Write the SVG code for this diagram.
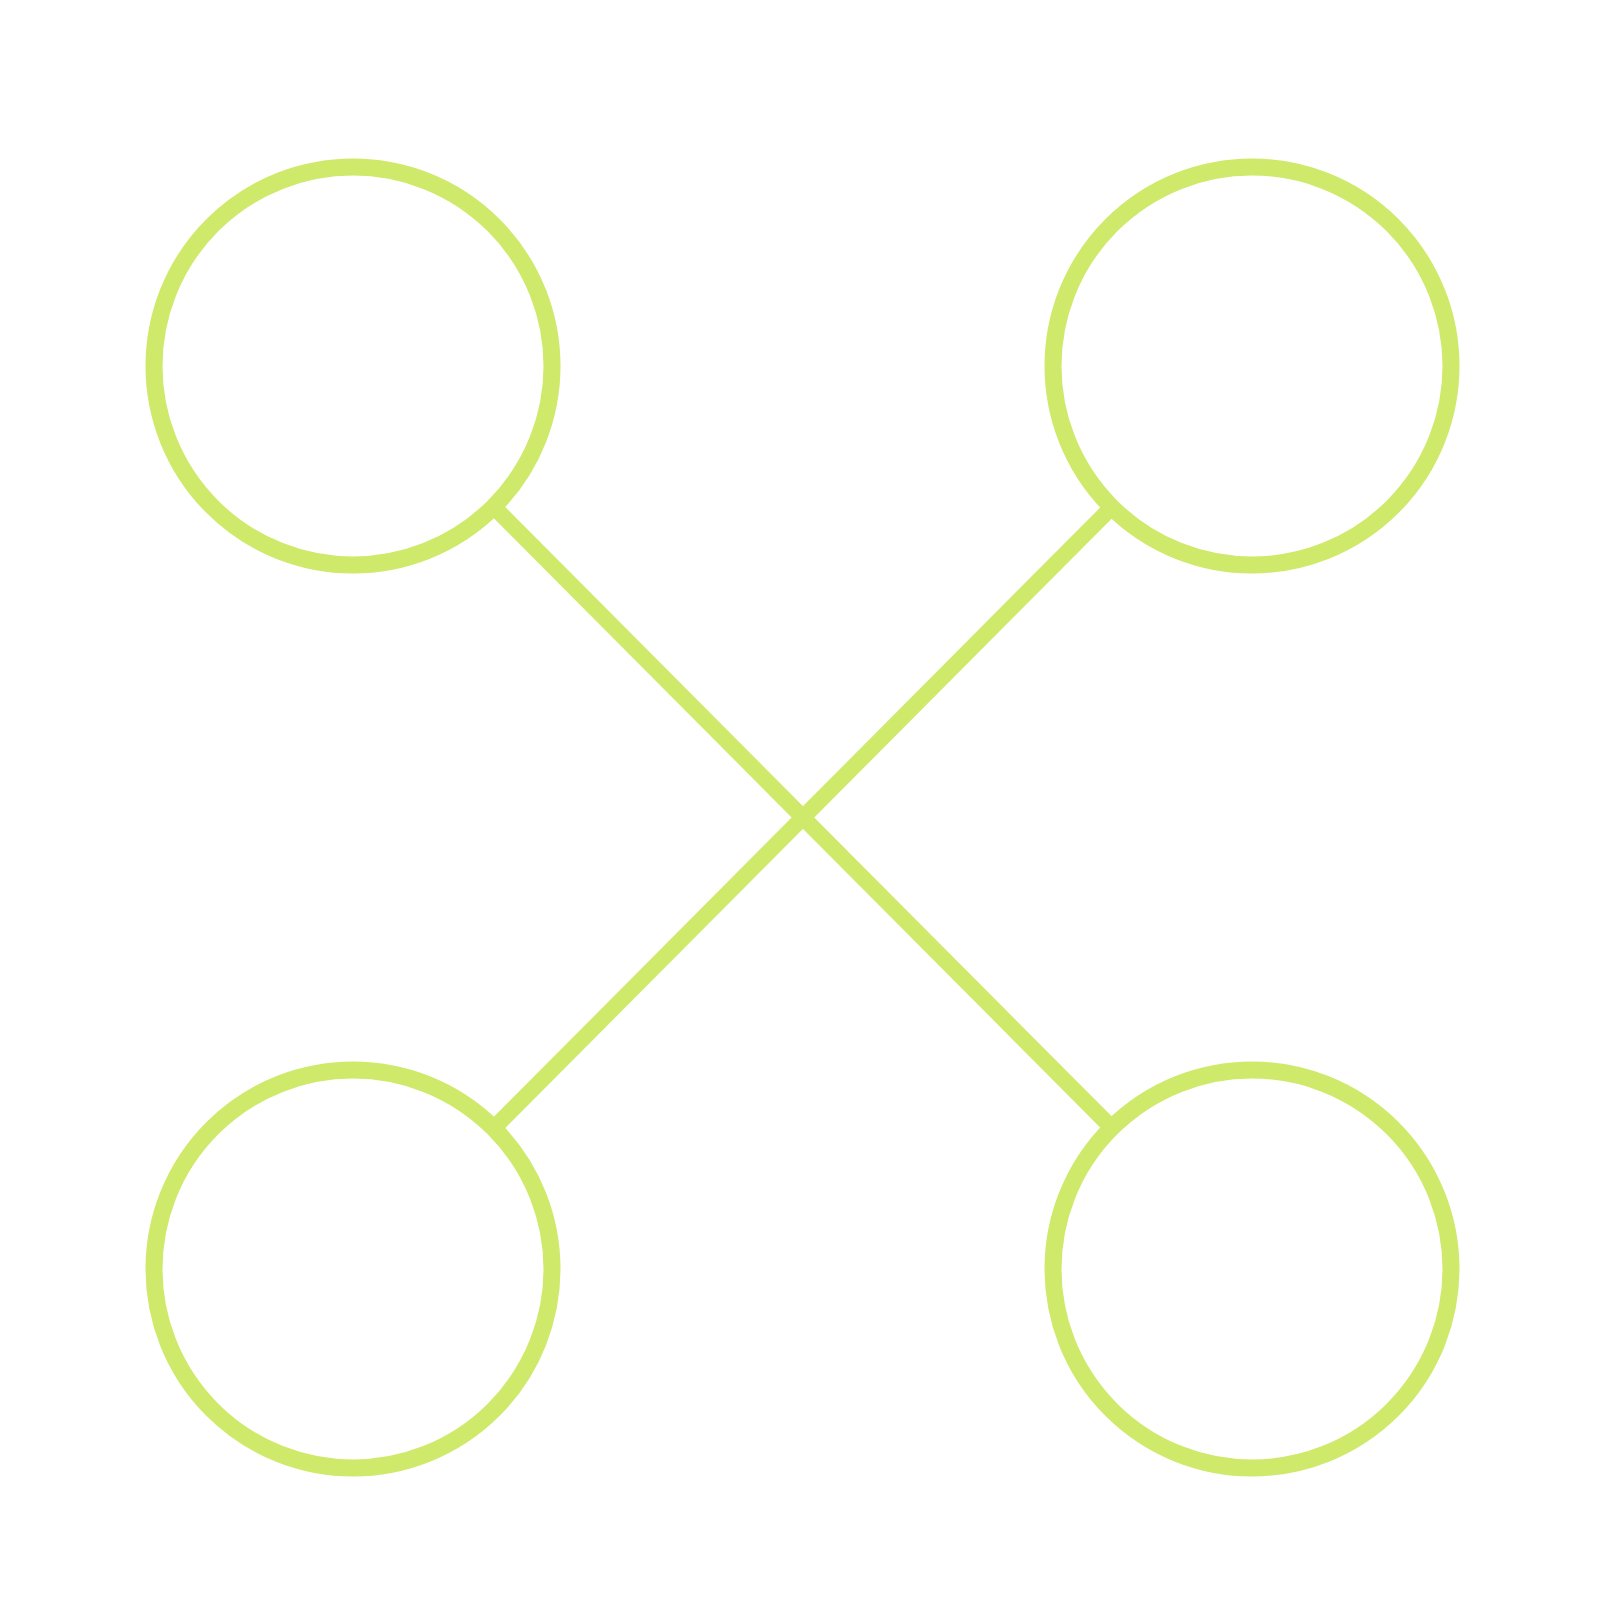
<svg xmlns="http://www.w3.org/2000/svg" width="1624" height="1624" viewBox="0 0 1624 1624">
<style>
.node{fill:none;stroke:#cfe96b;stroke-width:17}
.edge{fill:none;stroke:#cfe96b;stroke-width:16}
</style>
<rect width="1624" height="1624" fill="#ffffff"/>
<g id="connectors">
<line class="edge" x1="494" y1="507" x2="1112" y2="1128"/>
<line class="edge" x1="1112" y1="507" x2="494" y2="1128"/>
</g>
<g id="node-tl"><circle class="node" cx="353" cy="366" r="199"/></g>
<g id="node-tr"><circle class="node" cx="1252" cy="366" r="199"/></g>
<g id="node-bl"><circle class="node" cx="353" cy="1269" r="199"/></g>
<g id="node-br"><circle class="node" cx="1252" cy="1269" r="199"/></g>
</svg>
